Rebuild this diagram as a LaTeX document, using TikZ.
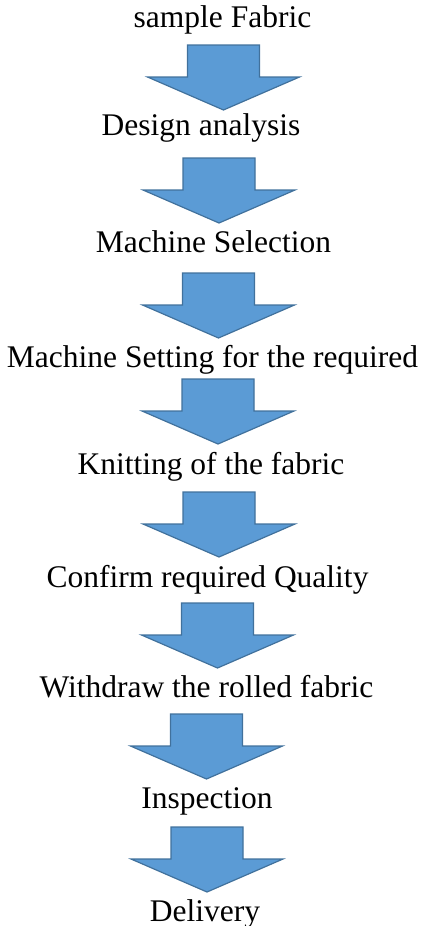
\documentclass[tikz,border=0pt]{standalone}
\usepackage{fontspec}
\setmainfont{Liberation Serif}
\definecolor{arrowfill}{HTML}{5B9BD5}
\definecolor{arrowline}{HTML}{41719C}
\tikzset{
  step label/.style={anchor=base, inner sep=0pt, font=\fontsize{15.75pt}{18pt}\selectfont},
  flowarrow/.style={fill=arrowfill, draw=arrowline, line width=0.6pt, line join=miter},
  downarrow/.pic={
    \path[flowarrow] (-36,0) -- (36,0) -- (36,32) -- (76,32) -- (0,65)
      -- (-76,32) -- (-36,32) -- cycle;
  }
}
\begin{document}
\begin{tikzpicture}[x=0.5pt, y=-0.5pt]
  \useasboundingbox (0,0) rectangle (423,926);

  % process steps
  \node[step label] (s1) at (222.5,27) {sample Fabric};
  \node[step label] (s2) at (201,135) {Design analysis};
  \node[step label] (s3) at (213.5,252) {Machine Selection};
  \node[step label] (s4) at (212.5,367) {Machine Setting for the required};
  \node[step label] (s5) at (211,474) {Knitting of the fabric};
  \node[step label] (s6) at (207.5,587) {Confirm required Quality};
  \node[step label] (s7) at (206.5,697) {Withdraw the rolled fabric};
  \node[step label] (s8) at (207,808) {Inspection};
  \node[step label] (s9) at (205,921) {Delivery};

  % block arrows between the steps
  \pic at (223.5,45)  {downarrow};
  \pic at (219,158)   {downarrow};
  \pic at (218.5,273) {downarrow};
  \pic at (218,379)   {downarrow};
  \pic at (219,492)   {downarrow};
  \pic at (217.5,603) {downarrow};
  \pic at (206.5,714) {downarrow};
  \pic at (207,827)   {downarrow};
\end{tikzpicture}
\end{document}
